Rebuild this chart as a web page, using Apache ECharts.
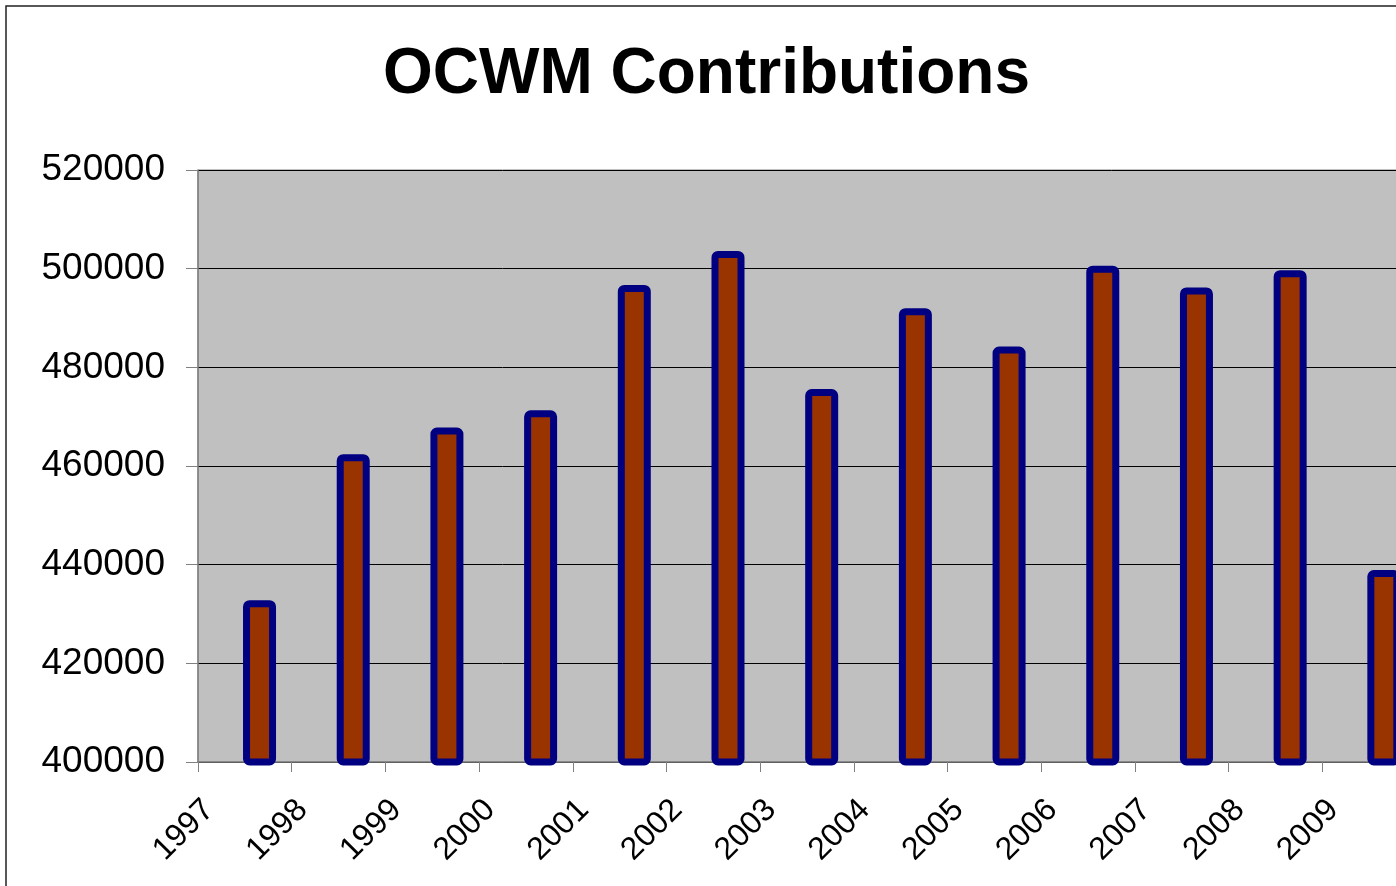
<!DOCTYPE html>
<html>
<head>
    <meta charset="utf-8">
    <title>OCWM Contributions</title>
    <script src="https://cdn.jsdelivr.net/npm/echarts@6/dist/echarts.min.js"></script>
    <style>
        html, body { margin: 0; padding: 0; background: #fff; overflow: hidden; }
    </style>
</head>
<body>
<!-- chart is wider than the window on purpose: the right edge is cut off like the original -->
<div id="main" style="width: 1440px; height: 886px;"></div>

<script type="text/javascript">

var years = ['1997', '1998', '1999', '2000', '2001', '2002', '2003',
             '2004', '2005', '2006', '2007', '2008', '2009'];
var contributions = [432800, 462400, 467800, 471300, 496700, 503600, 475600,
                     492000, 484200, 500600, 496200, 499700, 438900];
// one empty slot so the labels sit on the category boundaries
var tickLabels = years.concat(['']);

var myChart = echarts.init(document.getElementById('main'));

myChart.setOption({
    animation: false,
    textStyle: { fontFamily: 'Arial, "Liberation Sans", sans-serif' },
    title: {
        text: 'OCWM Contributions',
        left: 378,
        top: 38,
        textStyle: {
            fontSize: 64,
            fontWeight: 'bold',
            color: '#000',
            fontFamily: 'Arial, "Liberation Sans", sans-serif'
        }
    },
    graphic: [{
        type: 'rect',
        shape: { x: 6, y: 6, width: 1600, height: 1000 },
        style: { fill: 'none', stroke: '#222', lineWidth: 1.5 },
        silent: true,
        z: -1
    }],
    grid: [{
        left: 198,
        top: 170,
        width: 1218,
        height: 592,
        show: true,
        backgroundColor: '#c0c0c0',
        borderColor: '#808080',
        borderWidth: 1
    }, {
        left: 209,
        top: 170,
        width: 1218,
        height: 592
    }],
    xAxis: [{
        type: 'category',
        gridIndex: 0,
        data: years,
        boundaryGap: true,
        axisLine: { show: true, lineStyle: { color: '#808080', width: 1.5 } },
        axisTick: { show: true, alignWithLabel: false, length: 10, lineStyle: { color: '#808080' } },
        axisLabel: { show: false },
        splitLine: { show: false }
    }, {
        type: 'category',
        gridIndex: 1,
        data: tickLabels,
        boundaryGap: false,
        axisLine: { show: false },
        axisTick: { show: false },
        axisLabel: {
            show: true,
            interval: 0,
            rotate: 45,
            margin: 43,
            fontSize: 32,
            color: '#000'
        }
    }],
    yAxis: [{
        type: 'value',
        gridIndex: 0,
        min: 400000,
        max: 520000,
        interval: 20000,
        axisLine: { show: true, lineStyle: { color: '#808080', width: 1.5 } },
        axisTick: { show: true, length: 12, lineStyle: { color: '#808080' } },
        axisLabel: {
            fontSize: 37,
            color: '#000',
            margin: 33,
            formatter: function (v) { return String(v); }
        },
        splitLine: { show: true, lineStyle: { color: '#000', width: 1 } }
    }, {
        type: 'value',
        gridIndex: 1,
        show: false
    }],
    series: [{
        // empty first series, the real bars sit in the second slot
        name: 'blank',
        type: 'bar',
        xAxisIndex: 0,
        yAxisIndex: 0,
        data: [],
        barWidth: 33,
        barGap: '-11%'
    }, {
        name: 'Contributions',
        type: 'bar',
        xAxisIndex: 0,
        yAxisIndex: 0,
        data: contributions,
        barWidth: 33,
        barGap: '-11%',
        itemStyle: {
            color: '#993300',
            borderColor: '#000080',
            borderWidth: 7,
            borderRadius: 3
        }
    }]
});
</script>
</body>
</html>
